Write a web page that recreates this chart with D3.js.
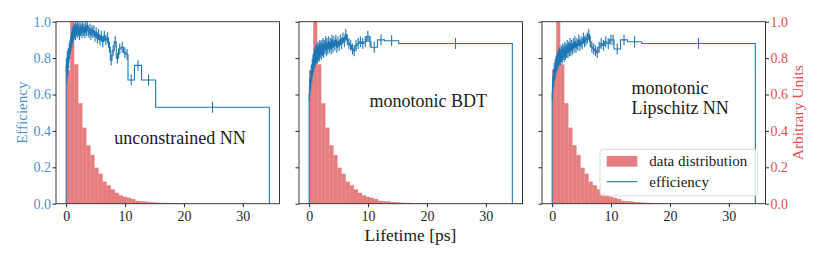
<!DOCTYPE html>
<html>
<head>
<meta charset="utf-8">
<script src="https://cdn.jsdelivr.net/npm/d3@7/dist/d3.min.js"></script>
<style>
  body { margin: 0; background: #fff; }
  svg, svg text { font-family: "Liberation Serif", "Times New Roman", "DejaVu Serif", serif !important; }
</style>
</head>
<body>
<div id="chart"></div>
<script>
var width = 822,
    height = 274;

// data distribution histogram, 50 equal bins over [0, 34.5], arbitrary units
var distRange = [0, 34.5];
var distBins = 50;
var distValues = [0.735, 1.30, 0.766, 0.552, 0.418, 0.321, 0.268, 0.198, 0.165, 0.121,
                  0.101, 0.079, 0.060, 0.046, 0.038, 0.033, 0.026, 0.016, 0.014, 0.013,
                  0.009, 0.008, 0.006, 0.005, 0.005, 0.004, 0.003, 0.003, 0.002, 0.001];

// efficiency bin edges (shared by all three models)
var effEdges = [0, 0.08, 0.16, 0.24, 0.32, 0.4, 0.48, 0.56, 0.62, 0.68, 0.74, 0.8, 0.86, 0.92, 0.98,
                1.04, 1.1, 1.16, 1.22, 1.28, 1.34, 1.4, 1.47, 1.54, 1.61, 1.68, 1.76, 1.84, 1.92, 2.0,
                2.1, 2.2, 2.3, 2.4, 2.5, 2.62, 2.74, 2.86, 2.98, 3.1, 3.24, 3.38, 3.52, 3.66, 3.8,
                3.96, 4.12, 4.28, 4.45, 4.62, 4.8, 5.0, 5.2, 5.4, 5.62, 5.85, 6.1, 6.35, 6.6, 6.9,
                7.2, 7.5, 7.8, 8.15, 8.5, 8.9, 9.3, 9.75, 10.2, 10.5, 11.6, 12.8, 15.2, 34.5];

var effUnconstrained = [0.76, 0.70, 0.80, 0.74, 0.82, 0.78, 0.85, 0.83, 0.87, 0.85, 0.89, 0.87, 0.91, 0.89, 0.93,
                        0.91, 0.94, 0.92, 0.95, 0.93, 0.96, 0.94, 0.96, 0.93, 0.97, 0.95, 0.96, 0.94, 0.97, 0.95,
                        0.96, 0.93, 0.97, 0.95, 0.96, 0.94, 0.97, 0.95, 0.96, 0.94, 0.97, 0.95, 0.98, 0.95, 0.94,
                        0.96, 0.93, 0.95, 0.94, 0.95, 0.92, 0.94, 0.91, 0.93, 0.90, 0.92, 0.89, 0.92, 0.90, 0.91,
                        0.86, 0.79, 0.84, 0.89, 0.80, 0.85, 0.86, 0.83, 0.82, 0.68, 0.76, 0.68, 0.53];

var effBDT = [0.60, 0.65, 0.69, 0.67, 0.73, 0.70, 0.76, 0.73, 0.79, 0.75, 0.80, 0.77, 0.82, 0.78, 0.83,
              0.79, 0.84, 0.80, 0.85, 0.81, 0.84, 0.80, 0.86, 0.82, 0.85, 0.81, 0.87, 0.83, 0.86, 0.82,
              0.87, 0.84, 0.88, 0.83, 0.87, 0.85, 0.89, 0.84, 0.88, 0.85, 0.89, 0.86, 0.88, 0.85, 0.90,
              0.86, 0.89, 0.87, 0.90, 0.86, 0.89, 0.87, 0.90, 0.88, 0.91, 0.89, 0.93, 0.90, 0.88, 0.87,
              0.85, 0.84, 0.87, 0.88, 0.89, 0.88, 0.89, 0.92, 0.89, 0.86, 0.90, 0.895, 0.88];

var effLipschitz = [0.61, 0.66, 0.70, 0.68, 0.74, 0.71, 0.76, 0.73, 0.78, 0.75, 0.79, 0.76, 0.80, 0.77, 0.81,
                    0.78, 0.82, 0.79, 0.83, 0.80, 0.82, 0.79, 0.84, 0.81, 0.83, 0.80, 0.85, 0.82, 0.84, 0.81,
                    0.86, 0.82, 0.85, 0.83, 0.87, 0.83, 0.86, 0.84, 0.88, 0.84, 0.87, 0.85, 0.88, 0.86, 0.89,
                    0.86, 0.88, 0.87, 0.90, 0.87, 0.89, 0.88, 0.91, 0.89, 0.90, 0.91, 0.93, 0.89, 0.86, 0.85,
                    0.84, 0.83, 0.86, 0.88, 0.87, 0.89, 0.88, 0.90, 0.90, 0.85, 0.90, 0.89, 0.88];

var effErr = [0.04, 0.04, 0.04, 0.04, 0.035, 0.035, 0.035, 0.035, 0.03, 0.03, 0.03, 0.03, 0.03, 0.03, 0.03,
              0.03, 0.03, 0.03, 0.03, 0.03, 0.03, 0.03, 0.03, 0.03, 0.03, 0.03, 0.03, 0.03, 0.03, 0.03,
              0.03, 0.03, 0.03, 0.03, 0.03, 0.03, 0.03, 0.03, 0.03, 0.03, 0.03, 0.03, 0.03, 0.03, 0.03,
              0.03, 0.03, 0.03, 0.03, 0.03, 0.03, 0.03, 0.03, 0.03, 0.03, 0.03, 0.03, 0.03, 0.03, 0.03,
              0.03, 0.03, 0.03, 0.03, 0.03, 0.03, 0.03, 0.03, 0.03, 0.03, 0.03, 0.03, 0.03];

var panelLabels = [["unconstrained NN"], ["monotonic BDT"], ["monotonic", "Lipschitz NN"]];
var panelEff = [effUnconstrained, effBDT, effLipschitz];
var xTicks = [0, 10, 20, 30];
var yTicks = [0, 0.2, 0.4, 0.6, 0.8, 1.0];

var blue = "#1f77b4",
    red = "#d62728",
    blueText = "#4b92cc",
    redText = "#e25052",
    serif = "'Liberation Serif', 'Times New Roman', serif";

var svg = d3.select("#chart")
        .append("svg")
        .attr("width", width)
        .attr("height", height)
        .attr("font-family", serif);

var panelLeft = [56, 299, 542],
    panelTop = 21.7,
    pw = 223.5,
    ph = 182;

var x = d3.scaleLinear().domain([-1.725, 36.225]).range([0, pw]);
var y = d3.scaleLinear().domain([0, 1]).range([ph, 0]);
var fmt = d3.format(".1f");
var bw = (distRange[1] - distRange[0]) / distBins;

var labelPos = [[0.555, 0.33], [0.578, 0.53], [0.40, 0.6]];

panelLeft.forEach(function(left, p) {
    var g = svg.append("g").attr("transform", "translate(" + left + "," + panelTop + ")");

    g.append("clipPath").attr("id", "clip" + p)
      .append("rect").attr("width", pw).attr("height", ph);

    var plot = g.append("g").attr("clip-path", "url(#clip" + p + ")");

    // histogram
    plot.selectAll(".bar")
        .data(distValues)
        .enter().append("rect")
        .attr("x", function(d, i) { return x(distRange[0] + i * bw); })
        .attr("width", function(d, i) { return x(distRange[0] + (i + 1) * bw) - x(distRange[0] + i * bw); })
        .attr("y", function(d) { return y(d); })
        .attr("height", function(d) { return y(0) - y(d); })
        .attr("fill", red)
        .attr("fill-opacity", 0.6);

    // efficiency step
    var vals = panelEff[p];
    var pts = [[effEdges[0], 0]];
    vals.forEach(function(v, i) { pts.push([effEdges[i], v]); });
    pts.push([effEdges[effEdges.length - 1], vals[vals.length - 1]]);
    pts.push([effEdges[effEdges.length - 1], 0]);

    var line = d3.line()
        .x(function(d) { return x(d[0]); })
        .y(function(d) { return y(d[1]); })
        .curve(d3.curveStepAfter);

    plot.append("path")
        .attr("d", line(pts))
        .attr("fill", "none")
        .attr("stroke", blue)
        .attr("stroke-width", 1.1);

    plot.selectAll(".err")
        .data(vals)
        .enter().append("line")
        .attr("x1", function(d, i) { return x((effEdges[i] + effEdges[i + 1]) / 2); })
        .attr("x2", function(d, i) { return x((effEdges[i] + effEdges[i + 1]) / 2); })
        .attr("y1", function(d, i) { return y(d - effErr[i]); })
        .attr("y2", function(d, i) { return y(d + effErr[i]); })
        .attr("stroke", blue)
        .attr("stroke-width", 1.1);

    // axes
    var xa = g.append("g").attr("transform", "translate(0," + ph + ")")
        .call(d3.axisBottom(x).tickValues(xTicks).tickSize(3.5).tickPadding(4));
    var ya = g.append("g")
        .call(d3.axisLeft(y).tickValues(yTicks).tickSize(3.5).tickPadding(1.5)
              .tickFormat(p === 0 ? fmt : ""));
    ya.selectAll("text").attr("fill", blueText);

    var axes = [xa, ya];
    if (p === 2) {
        var ra = g.append("g").attr("transform", "translate(" + pw + ",0)")
            .call(d3.axisRight(y).tickValues(yTicks).tickSize(3.5).tickPadding(1.5).tickFormat(fmt));
        ra.selectAll("text").attr("fill", redText);
        axes.push(ra);
    }

    axes.forEach(function(a) {
        a.attr("font-family", serif).attr("font-size", 14);
        a.select(".domain").remove();
        a.selectAll("line").attr("stroke", "#262626");
    });
    xa.selectAll("text").attr("fill", "#262626");

    g.append("rect")
        .attr("width", pw)
        .attr("height", ph)
        .attr("fill", "none")
        .attr("stroke", "#262626")
        .attr("stroke-width", 0.9);

    // model label
    var t = g.append("text")
        .attr("x", labelPos[p][0] * pw)
        .attr("y", y(labelPos[p][1]))
        .attr("text-anchor", p === 2 ? "start" : "middle")
        .attr("font-size", 18)
        .attr("fill", "#1a1a1a");
    panelLabels[p].forEach(function(s, i) {
        t.append("tspan")
          .attr("x", labelPos[p][0] * pw)
          .attr("dy", i === 0 ? 0 : 20)
          .text(s);
    });

    if (p === 2) {
        var lg = g.append("g").attr("transform", "translate(" + (600 - left) + "," + (149.3 - panelTop) + ")");
        lg.append("rect")
          .attr("width", 157.5).attr("height", 46.5).attr("rx", 3)
          .attr("fill", "#fff").attr("fill-opacity", 0.8)
          .attr("stroke", "#d0d0d0").attr("stroke-width", 0.8);
        lg.append("rect")
          .attr("x", 6.7).attr("y", 6.7).attr("width", 30.6).attr("height", 10.7)
          .attr("fill", red).attr("fill-opacity", 0.6);
        lg.append("line")
          .attr("x1", 6.7).attr("x2", 37.3).attr("y1", 32.4).attr("y2", 32.4)
          .attr("stroke", blue).attr("stroke-width", 1.1);
        lg.append("text").attr("x", 49.3).attr("y", 16.4)
          .attr("font-size", 15).attr("fill", "#1a1a1a").text("data distribution");
        lg.append("text").attr("x", 49.3).attr("y", 37.4)
          .attr("font-size", 15).attr("fill", "#1a1a1a").text("efficiency");
    }
});

svg.append("text")
    .attr("transform", "translate(22," + (panelTop + ph / 2) + ") rotate(-90)")
    .attr("text-anchor", "middle")
    .attr("dy", "0.35em")
    .attr("font-size", 15)
    .attr("fill", blueText)
    .text("Efficiency");

svg.append("text")
    .attr("transform", "translate(797.5," + (panelTop + ph / 2) + ") rotate(-90)")
    .attr("text-anchor", "middle")
    .attr("dy", "0.35em")
    .attr("font-size", 15.5)
    .attr("fill", redText)
    .text("Arbitrary Units");

svg.append("text")
    .attr("x", 410.5)
    .attr("y", 241)
    .attr("text-anchor", "middle")
    .attr("font-size", 17.5)
    .attr("fill", "#1a1a1a")
    .text("Lifetime [ps]");
</script>
</body>
</html>
